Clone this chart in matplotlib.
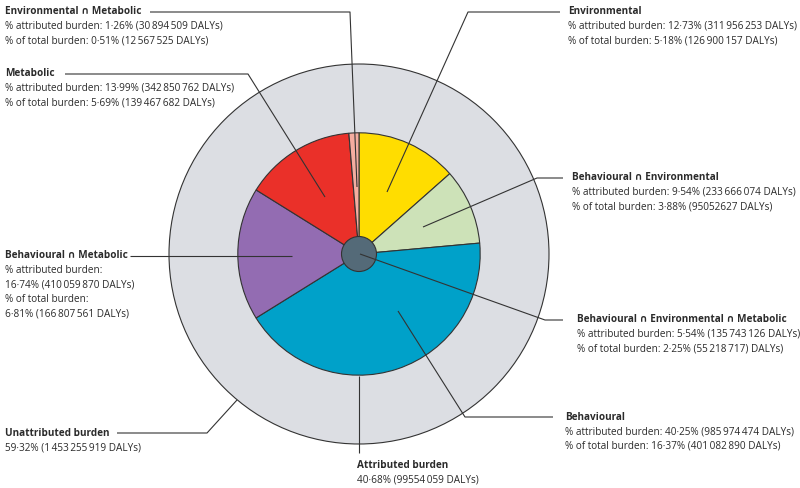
import matplotlib.pyplot as plt

plt.rcParams['font.family'] = ['Open Sans', 'DejaVu Sans']

# inner pie: share of attributed burden (B∩E∩M sits in the middle)
labels = ['Environmental', 'Behavioural \u2229 Environmental', 'Behavioural',
          'Behavioural \u2229 Metabolic', 'Metabolic', 'Environmental \u2229 Metabolic']
attr_pct = [12.73, 9.54, 40.25, 16.74, 13.99, 1.26]
colors = ['#ffdd00', '#cde2b8', '#00a1c9', '#936cb2', '#ea3029', '#f5ada0']
bem_pct = 5.54
unattributed = 59.32
attributed = 40.68

H = 488
cx, cy = 359, H - 254
R = 190
r = R * (attributed / 100) ** 0.5

fig = plt.figure(figsize=(8, 4.88), dpi=100)
ax = fig.add_axes([0, 0, 1, 1])

ax.add_patch(plt.Circle((cx, cy), R, facecolor='#dcdee3', edgecolor='#333333', lw=0.8, zorder=1))
ax.pie(attr_pct, colors=colors, startangle=90, counterclock=False, radius=r, center=(cx, cy),
       wedgeprops=dict(edgecolor='#333333', linewidth=0.8, zorder=2))
ax.add_patch(plt.Circle((cx, cy), 17.5, facecolor='#546a78', edgecolor='#333333', lw=0.8, zorder=3))

ax.set_xlim(0, 800)
ax.set_ylim(0, H)
ax.set_aspect('auto')
ax.axis('off')

lc = '#333333'
tc = '#2b2b2b'
fs = 7.2
sp = 14.5


def block(x, y, title, lines):
    ax.text(x, H - y, title, fontsize=fs, fontweight='bold', color=tc, va='center', ha='left')
    for i, l in enumerate(lines):
        ax.text(x, H - y - sp * (i + 1), l, fontsize=fs, color=tc, va='center', ha='left')


def path(pts):
    xs = [p[0] for p in pts]
    ys = [H - p[1] for p in pts]
    ax.plot(xs, ys, color=lc, lw=0.8, zorder=5, solid_capstyle='butt')


ts = '\u2009'

block(5, 12, 'Environmental \u2229 Metabolic',
      ['% attributed burden: 1\u00b726% (30' + ts + '894' + ts + '509 DALYs)',
       '% of total burden: 0\u00b751% (12' + ts + '567' + ts + '525 DALYs)'])
path([(150, 12), (350, 12), (357, 187)])

block(5, 74, 'Metabolic',
      ['% attributed burden: 13\u00b799% (342' + ts + '850' + ts + '762 DALYs)',
       '% of total burden: 5\u00b769% (139' + ts + '467' + ts + '682 DALYs)'])
path([(65, 74), (248, 74), (325, 197)])

block(568, 12, 'Environmental',
      ['% attributed burden: 12\u00b773% (311' + ts + '956' + ts + '253 DALYs)',
       '% of total burden: 5\u00b718% (126' + ts + '900' + ts + '157 DALYs)'])
path([(560, 12), (468, 12), (387, 192)])

block(572, 178, 'Behavioural \u2229 Environmental',
      ['% attributed burden: 9\u00b754% (233' + ts + '666' + ts + '074 DALYs)',
       '% of total burden: 3\u00b788% (95052627 DALYs)'])
path([(563, 178), (537, 178), (423, 227)])

block(5, 256, 'Behavioural \u2229 Metabolic',
      ['% attributed burden:',
       '16\u00b774% (410' + ts + '059' + ts + '870 DALYs)',
       '% of total burden:',
       '6\u00b781% (166' + ts + '807' + ts + '561 DALYs)'])
path([(130, 256), (292, 256)])

block(577, 320, 'Behavioural \u2229 Environmental \u2229 Metabolic',
      ['% attributed burden: 5\u00b754% (135' + ts + '743' + ts + '126 DALYs)',
       '% of total burden: 2\u00b725% (55' + ts + '218' + ts + '717) DALYs)'])
path([(360, 254), (545, 320), (563, 320)])

block(5, 433, 'Unattributed burden',
      ['59\u00b732% (1' + ts + '453' + ts + '255' + ts + '919 DALYs)'])
path([(117, 433), (207, 433), (237, 400)])

block(357, 466, 'Attributed burden',
      ['40\u00b768% (99554' + ts + '059 DALYs)'])
path([(359, 376), (359, 453)])

block(565, 417, 'Behavioural',
      ['% attributed burden: 40\u00b725% (985' + ts + '974' + ts + '474 DALYs)',
       '% of total burden: 16\u00b737% (401' + ts + '082' + ts + '890 DALYs)'])
path([(398, 311), (465, 417), (553, 417)])

fig.savefig('out.png', dpi=100)
